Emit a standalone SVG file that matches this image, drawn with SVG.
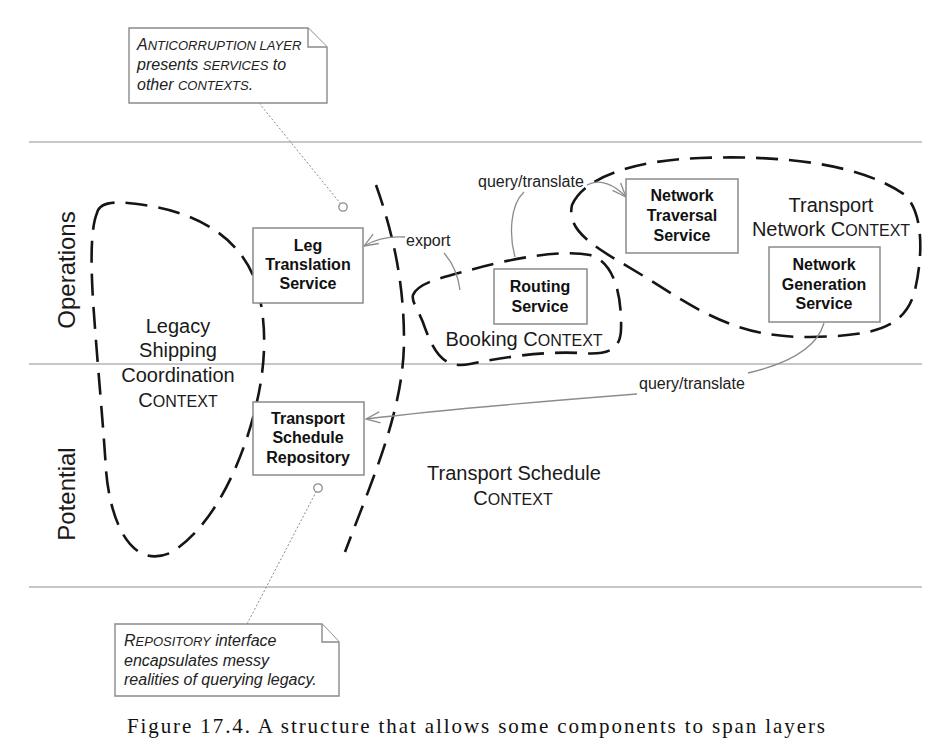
<svg xmlns="http://www.w3.org/2000/svg" width="947" height="748" viewBox="0 0 947 748">
<style>
.lane{stroke:#b4b4b4;stroke-width:1.6;fill:none}
.blob{fill:none;stroke:#151515;stroke-width:2.6;stroke-dasharray:22 11}
.box{fill:#fff;stroke:#8a8a8a;stroke-width:1.5}
.note{fill:#fff;stroke:#8a8a8a;stroke-width:1.4}
.lead{stroke:#8a8a8a;stroke-width:1;stroke-dasharray:2 2;fill:none}
.pin{fill:#fff;stroke:#8a8a8a;stroke-width:1.3}
.conn{fill:none;stroke:#8c8c8c;stroke-width:1.3}
.bl{font-family:"Liberation Sans",Arial,sans-serif;font-weight:bold;font-size:16px;fill:#111;text-anchor:middle}
.ctx{font-family:"Liberation Sans",Arial,sans-serif;font-size:20px;fill:#1a1a1a;text-anchor:middle}
.lbl{font-family:"Liberation Sans",Arial,sans-serif;font-size:16px;fill:#222}
.nt{font-family:"Liberation Sans",Arial,sans-serif;font-style:italic;font-size:16px;fill:#222}
.layer{font-family:"Liberation Sans",Arial,sans-serif;font-size:24px;fill:#1a1a1a;text-anchor:middle}
.cap{font-family:"Liberation Serif","Times New Roman",serif;font-size:21px;fill:#111}
</style>
<defs>
<marker id="open" markerUnits="userSpaceOnUse" markerWidth="18" markerHeight="14" refX="16" refY="7" orient="auto">
<path d="M2,1.5 L16,7 L2,12.5" fill="none" stroke="#8c8c8c" stroke-width="1.3"/>
</marker>
</defs>
<rect width="947" height="748" fill="#fff"/>

<g id="layers">
<line class="lane" x1="29" y1="142" x2="922" y2="142"/>
<line class="lane" x1="29" y1="364" x2="922" y2="364"/>
<line class="lane" x1="29" y1="587" x2="922" y2="587"/>
<text class="layer" transform="translate(75,270) rotate(-90)">Operations</text>
<text class="layer" transform="translate(75,494) rotate(-90)">Potential</text>
</g>

<g id="legacy-context">
<path class="blob" d="M97,213 C100,200 120,201 150,206 C200,214 245,240 258,290 C268,330 265,370 255,410 C240,470 210,530 170,553 C130,570 110,520 106,470 C103,420 97,360 93,300 C90,250 92,225 97,213 Z"/>
<text class="ctx"><tspan x="178" y="333">Legacy</tspan><tspan x="178" y="357">Shipping</tspan><tspan x="178" y="382">Coordination</tspan><tspan x="178" y="407">C<tspan font-size="16">ONTEXT</tspan></tspan></text>
</g>

<g id="schedule-boundary">
<path class="blob" d="M376,185 C392,230 404,280 404,340 C404,410 372,480 345,552"/>
<text class="ctx"><tspan x="514" y="480">Transport Schedule</tspan><tspan x="513" y="505">C<tspan font-size="16">ONTEXT</tspan></tspan></text>
</g>

<g id="booking-context">
<path class="blob" d="M413,295 C418,283 440,278 470,270 C510,259 560,249 590,255 C616,262 622,300 621,330 C620,352 605,355 580,353 C540,351 500,358 470,364 C445,369 435,355 425,328 C420,312 411,302 413,295 Z"/>
<text class="ctx" x="524" y="346">Booking C<tspan font-size="16">ONTEXT</tspan></text>
</g>

<g id="transport-network-context">
<path class="blob" d="M572,205 C585,175 640,160 700,158 C780,155 860,163 905,195 C925,215 922,260 915,290 C905,330 870,336 810,337 C740,338 700,312 650,280 C605,252 565,235 572,205 Z"/>
<text class="ctx"><tspan x="831" y="212">Transport</tspan><tspan x="831" y="236">Network C<tspan font-size="16">ONTEXT</tspan></tspan></text>
</g>

<g id="connectors">
<path class="conn" d="M460,290 C458,275 452,262 444,253"/>
<path class="conn" d="M405,237 C388,236 374,240 364,246" marker-end="url(#open)"/>
<text class="lbl" x="406" y="246">export</text>
<path class="conn" d="M515,257 C509,235 510,205 524,192"/>
<path class="conn" d="M587,185 C600,178 615,185 626,197" marker-end="url(#open)"/>
<text class="lbl" x="478" y="187">query/translate</text>
<path class="conn" d="M824,323 C818,345 795,362 748,373"/>
<path class="conn" d="M637,394 C560,400 440,410 366,419" marker-end="url(#open)"/>
<text class="lbl" x="639" y="389">query/translate</text>
</g>

<g id="leg-translation-service">
<rect class="box" x="253" y="228" width="110" height="75"/>
<text class="bl"><tspan x="308" y="251">Leg</tspan><tspan x="308" y="270">Translation</tspan><tspan x="308" y="289">Service</tspan></text>
</g>

<g id="transport-schedule-repository">
<rect class="box" x="253" y="402" width="111" height="73"/>
<text class="bl"><tspan x="308" y="424">Transport</tspan><tspan x="308" y="443">Schedule</tspan><tspan x="308" y="463">Repository</tspan></text>
</g>

<g id="routing-service">
<rect class="box" x="494" y="269" width="93" height="55"/>
<text class="bl"><tspan x="540" y="292">Routing</tspan><tspan x="540" y="312">Service</tspan></text>
</g>

<g id="network-traversal-service">
<rect class="box" x="626" y="179" width="112" height="74"/>
<text class="bl"><tspan x="682" y="201">Network</tspan><tspan x="682" y="221">Traversal</tspan><tspan x="682" y="241">Service</tspan></text>
</g>

<g id="network-generation-service">
<rect class="box" x="769" y="247" width="111" height="75"/>
<text class="bl"><tspan x="824" y="270">Network</tspan><tspan x="824" y="290">Generation</tspan><tspan x="824" y="309">Service</tspan></text>
</g>

<g id="note-anticorruption">
<path class="lead" d="M259,103 L340,203"/>
<circle class="pin" cx="343" cy="207" r="4.2"/>
<path class="note" d="M129,28 L308,28 L327,47 L327,103 L129,103 Z"/>
<path class="note" d="M308,28 L308,47 L327,47" fill="none"/>
<text class="nt"><tspan x="137" y="50">A<tspan font-size="13">NTICORRUPTION LAYER</tspan></tspan><tspan x="137" y="70">presents <tspan font-size="13">SERVICES</tspan> to</tspan><tspan x="137" y="90">other <tspan font-size="13">CONTEXTS</tspan>.</tspan></text>
</g>

<g id="note-repository">
<path class="lead" d="M247,624 L316,492"/>
<circle class="pin" cx="318" cy="488" r="4.2"/>
<path class="note" d="M115,624 L322,624 L339,642 L339,696 L115,696 Z"/>
<path class="note" d="M322,624 L322,642 L339,642" fill="none"/>
<text class="nt"><tspan x="124" y="646">R<tspan font-size="13">EPOSITORY</tspan> interface</tspan><tspan x="124" y="666">encapsulates messy</tspan><tspan x="124" y="685">realities of querying legacy.</tspan></text>
</g>

<text class="cap" x="127" y="733" textLength="698" lengthAdjust="spacing">Figure 17.4. A structure that allows some components to span layers</text>
</svg>
